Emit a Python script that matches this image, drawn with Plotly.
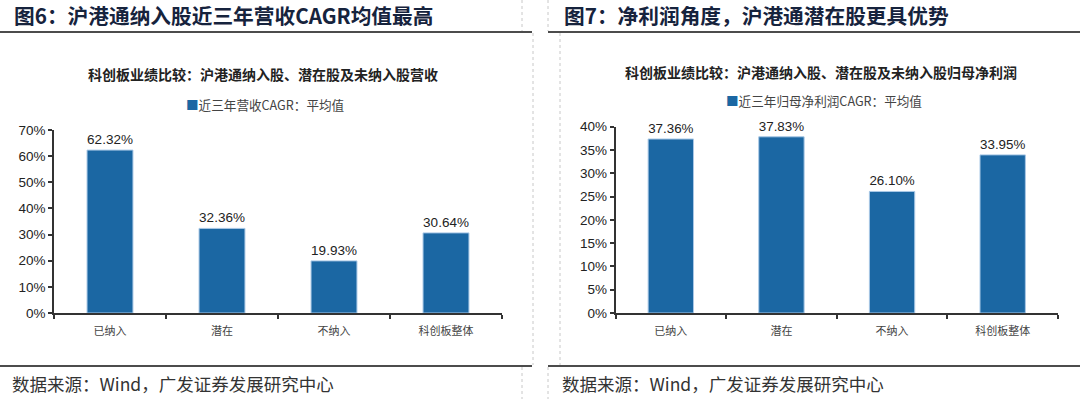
import plotly.graph_objects as go

W, H = 1080, 399

# ---- data ----
categories = ["已纳入", "潜在", "不纳入", "科创板整体"]
revenue_cagr = [0.6232, 0.3236, 0.1993, 0.3064]
profit_cagr = [0.3736, 0.3783, 0.2610, 0.3395]

fig_titles = ["图6：沪港通纳入股近三年营收CAGR均值最高", "图7：净利润角度，沪港通潜在股更具优势"]
chart_titles = ["科创板业绩比较：沪港通纳入股、潜在股及未纳入股营收",
                "科创板业绩比较：沪港通纳入股、潜在股及未纳入股归母净利润"]
legend_names = ["近三年营收CAGR：平均值", "近三年归母净利润CAGR：平均值"]
source_text = "数据来源：Wind，广发证券发展研究中心"

BAR = "#1B67A3"
EDGE = "#A9C8E6"
CJK = "Noto Sans CJK SC"
LAT = "Liberation Sans, Arial"


def px_x(x):
    return x / W


def px_y(y):
    return 1 - y / H


fig = go.Figure()

fig.add_trace(go.Bar(
    x=categories, y=revenue_cagr, xaxis="x", yaxis="y",
    marker=dict(color=BAR, line=dict(color=EDGE, width=1)),
    texttemplate="%{y:.2%}", textposition="outside", cliponaxis=False,
    textfont=dict(family=LAT, size=13.5, color="#222"),
    name=legend_names[0], showlegend=False,
))
fig.add_trace(go.Bar(
    x=categories, y=profit_cagr, xaxis="x2", yaxis="y2",
    marker=dict(color=BAR, line=dict(color=EDGE, width=1)),
    texttemplate="%{y:.2%}", textposition="outside", cliponaxis=False,
    textfont=dict(family=LAT, size=13.5, color="#222"),
    name=legend_names[1], showlegend=False,
))

xaxis_common = dict(
    type="category", range=[-0.5, 3.5], showline=True, linecolor="#333", linewidth=1.5,
    ticks="outside", tickson="boundaries", ticklen=4, tickcolor="#333", tickwidth=1.5,
    tickfont=dict(family=CJK, size=11, color="#444"), showgrid=False, zeroline=False,
    fixedrange=True, ticklabelstandoff=7,
)
yaxis_common = dict(
    showline=True, linecolor="#333", linewidth=1.5, ticks="outside", ticklen=4,
    tickcolor="#333", tickwidth=1.5, tickformat=".0%", showgrid=False, zeroline=False,
    tickfont=dict(family=LAT, size=13.5, color="#222"), fixedrange=True,
)

fig.update_layout(
    width=W, height=H, margin=dict(l=0, r=0, t=0, b=0, autoexpand=False),
    paper_bgcolor="white", plot_bgcolor="white", bargap=0.59,
    xaxis=dict(domain=[px_x(54), px_x(502)], anchor="y", **xaxis_common),
    yaxis=dict(domain=[px_y(313), px_y(130)], anchor="x", range=[0, 0.70], dtick=0.1, **yaxis_common),
    xaxis2=dict(domain=[px_x(615.5), px_x(1058)], anchor="y2", **xaxis_common),
    yaxis2=dict(domain=[px_y(313), px_y(126.7)], anchor="x2", range=[0, 0.40], dtick=0.05, **yaxis_common),
)

ann = []
# figure titles
for x0, t in [(12, fig_titles[0]), (562, fig_titles[1])]:
    ann.append(dict(x=px_x(x0), y=px_y(15), xref="paper", yref="paper", xanchor="left", yanchor="middle",
                    text="<b>" + t + "</b>", showarrow=False,
                    font=dict(family=CJK, size=20.7, color="#16233D")))
# chart titles
for xc, yc, t in [(263, 74, chart_titles[0]), (821, 72, chart_titles[1])]:
    ann.append(dict(x=px_x(xc), y=px_y(yc), xref="paper", yref="paper", xanchor="center", yanchor="middle",
                    text="<b>" + t + "</b>", showarrow=False,
                    font=dict(family=CJK, size=14, color="#222")))
# legends
for x0, yc, t in [(184, 104, legend_names[0]), (724, 100, legend_names[1])]:
    ann.append(dict(x=px_x(x0), y=px_y(yc), xref="paper", yref="paper", xanchor="left", yanchor="middle",
                    text="<span style='color:%s'>■</span>%s" % (BAR, t), showarrow=False,
                    font=dict(family=CJK, size=12.6, color="#444")))
# sources
for x0 in [10, 560]:
    ann.append(dict(x=px_x(x0), y=px_y(383), xref="paper", yref="paper", xanchor="left", yanchor="middle",
                    text=source_text, showarrow=False,
                    font=dict(family=CJK, size=17.5, color="#333")))
fig.update_layout(annotations=ann)

shapes = []
# solid separators
for y in [32, 366]:
    shapes.append(dict(type="line", xref="paper", yref="paper", x0=0, x1=px_x(532), y0=px_y(y), y1=px_y(y),
                       line=dict(color="#111", width=1.5)))
    shapes.append(dict(type="line", xref="paper", yref="paper", x0=px_x(548), x1=1, y0=px_y(y), y1=px_y(y),
                       line=dict(color="#111", width=1.5)))
# dotted frame lines
dot = dict(color="#C8C8C8", width=1, dash="dot")
for x, ya, yb in [(522, 0, 31), (522, 367, 399), (548, 0, 31), (548, 367, 399),
                  (533, 33, 365), (560, 33, 365)]:
    shapes.append(dict(type="line", xref="paper", yref="paper", x0=px_x(x), x1=px_x(x),
                       y0=px_y(ya), y1=px_y(yb), line=dot))
fig.update_layout(shapes=shapes)

fig.write_html("out.html", config={"displayModeBar": False},
               post_script="document.body.style.margin='0';document.body.style.overflow='hidden';")
